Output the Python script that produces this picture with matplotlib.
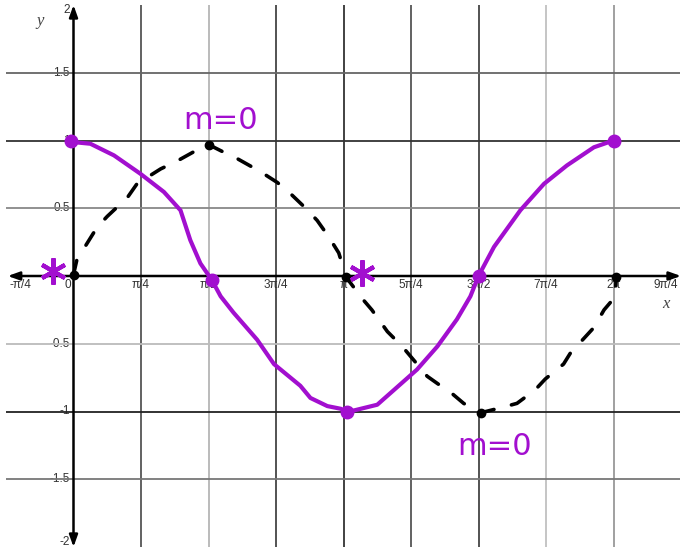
import numpy as np
import matplotlib.pyplot as plt

Q = np.pi / 4  # one grid step on the x axis

# hand traced cos curve (x in quarters of pi)
cos_u = [-0.04, 0.25, 0.60, 0.99, 1.34, 1.585, 1.73, 1.88, 2.05, 2.18, 2.37, 2.72,
         2.97, 3.36, 3.51, 3.76, 3.96, 4.05, 4.50, 4.75, 5.09, 5.39, 5.68, 5.88,
         6.00, 6.23, 6.62, 6.97, 7.31, 7.71, 8.00]
cos_y = [0.99, 0.976, 0.89, 0.755, 0.62, 0.485, 0.265, 0.093, -0.03, -0.15, -0.27, -0.47,
         -0.65, -0.81, -0.90, -0.96, -0.98, -1.005, -0.95, -0.84, -0.69, -0.52, -0.32, -0.15,
         0.0, 0.215, 0.485, 0.68, 0.816, 0.95, 1.0]
cos_pts_u = [-0.04, 2.05, 4.05, 6.0, 8.0]
cos_pts_y = [1.0, -0.03, -1.0, 0.0, 1.0]

# hand traced sin curve (dashed)
sin_u = [0.0, 0.05, 0.35, 0.5, 0.80, 0.94, 1.29, 1.54, 1.83, 2.0, 2.28, 2.43, 2.77, 3.02,
         3.21, 3.44, 3.61, 3.78, 3.93, 4.04, 4.30, 4.42, 4.65, 4.87, 5.09, 5.24, 5.41,
         5.59, 5.78, 6.03, 6.35, 6.57, 6.84, 6.99, 7.26, 7.36, 7.71, 7.86, 7.98, 8.03, 8.04]
sin_y = [0.01, 0.12, 0.36, 0.44, 0.58, 0.68, 0.79, 0.85, 0.93, 0.97, 0.90, 0.865, 0.77, 0.69,
         0.61, 0.50, 0.41, 0.29, 0.17, -0.01, -0.18, -0.25, -0.41, -0.52, -0.65, -0.74, -0.80,
         -0.86, -0.94, -1.01, -0.97, -0.94, -0.84, -0.76, -0.65, -0.57, -0.38, -0.25, -0.18,
         -0.115, -0.01]
sin_pts_u = [0.0, 2.0, 4.04, 6.03, 8.04]
sin_pts_y = [0.01, 0.97, -0.01, -1.01, -0.01]

x_ticks_u = [-1, 0, 1, 2, 3, 4, 5, 6, 7, 8, 9]
x_tick_labels = ['-π/4', '0', 'π/4', 'π/2', '3π/4', 'π', '5π/4', '3π/2', '7π/4', '2π', '9π/4']
y_ticks = [2, 1.5, 1, 0.5, -0.5, -1, -1.5, -2]
y_tick_labels = ['2', '1.5', '1', '0.5', '-0.5', '-1', '-1.5', '-2']

PURPLE = '#a20fcf'

fig = plt.figure(figsize=(6.8, 5.51), dpi=100)
ax = fig.add_axes([6 / 680, 4 / 551, 675 / 680, 542 / 551])
ax.set_xlim(-Q, 9 * Q)
ax.set_ylim(-2, 2)
ax.axis('off')

# grid
vcolors = ['#555555', '#b5b5b5', '#444444', '#333333', '#555555', '#444444', '#c0c0c0', '#999999']
for u, c in zip(range(1, 9), vcolors):
    ax.axvline(u * Q, color=c, lw=1.3, zorder=1)
hlines = [1.5, 1, 0.5, -0.5, -1, -1.5]
hcolors = ['#666666', '#333333', '#888888', '#bbbbbb', '#222222', '#777777']
for yv, c in zip(hlines, hcolors):
    ax.axhline(yv, color=c, lw=1.3, zorder=1)

# axes with arrows
arrow = dict(arrowstyle='<|-|>,head_length=0.7,head_width=0.25', color='black', lw=1.8,
             shrinkA=0, shrinkB=0)
ax.annotate('', xy=(9 * Q, 0), xytext=(-Q + 0.02, 0), arrowprops=arrow, annotation_clip=False, zorder=3)
ax.annotate('', xy=(0, 2), xytext=(0, -2), arrowprops=arrow, annotation_clip=False, zorder=3)

# tick labels
x_shift = {'-π/4': 14, '0': -6, '9π/4': -15}
for u, lab in zip(x_ticks_u, x_tick_labels):
    ax.annotate(lab, (u * Q, 0), xytext=(x_shift.get(lab, 0), -9), textcoords='offset pixels',
                ha='center', va='center', fontsize=8.5, color='#333333',
                family='Liberation Sans', zorder=2)
for yv, lab in zip(y_ticks, y_tick_labels):
    dy = -5 if yv == 2 else (5 if yv == -2 else 0)
    ax.annotate(lab, (0, yv), xytext=(-4, dy), textcoords='offset pixels',
                ha='right', va='center', fontsize=8.5, color='#333333',
                family='Liberation Sans', zorder=0.5)
ax.text(-0.49 * Q, 1.88, 'y', fontsize=12, style='italic', family='Liberation Serif',
        color='#444444', ha='center', va='center')
ax.text(8.77 * Q, -0.15, 'x', fontsize=12, style='italic', family='Liberation Serif',
        color='#444444', ha='center', va='top')

# curves
ax.plot(np.array(sin_u) * Q, sin_y, color='black', lw=2.6, ls=(0, (4, 5)),
        solid_capstyle='round', dash_capstyle='round', zorder=4)
ax.plot(np.array(sin_pts_u) * Q, sin_pts_y, 'o', color='black', ms=6, zorder=5)
ax.plot(np.array(cos_u) * Q, cos_y, color=PURPLE, lw=3, solid_joinstyle='round', zorder=6)
ax.plot(np.array(cos_pts_u) * Q, cos_pts_y, 'o', color=PURPLE, ms=9, zorder=7)

# notes
ax.plot([-0.30 * Q, 4.27 * Q], [0.04, 0.02], ls='none', marker=(6, 2, 0), ms=19,
        mew=3, color=PURPLE, zorder=7)
ax.text(2.18 * Q, 1.15, 'm=0', color=PURPLE, fontsize=22, ha='center', va='center',
        family='DejaVu Sans', zorder=7)
ax.text(6.24 * Q, -1.26, 'm=0', color=PURPLE, fontsize=22, ha='center', va='center',
        family='DejaVu Sans', zorder=7)

fig.savefig('out.png', dpi=100)
